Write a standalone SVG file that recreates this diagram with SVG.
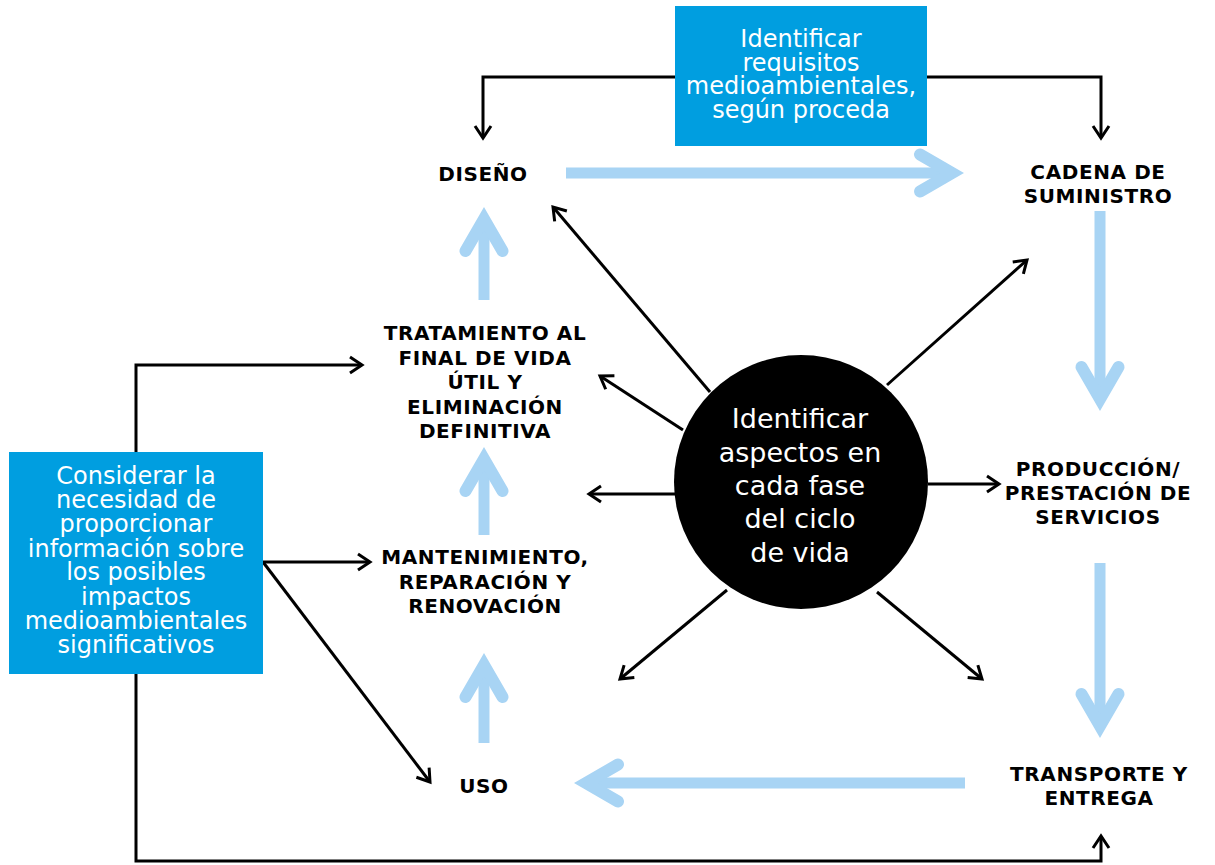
<svg xmlns="http://www.w3.org/2000/svg" xmlns:xlink="http://www.w3.org/1999/xlink" width="1215" height="865" viewBox="0 0 1215 865">
<style>
.lbl{font-family:"DejaVu Sans","Verdana",sans-serif;font-weight:bold;font-size:20px;letter-spacing:0.6px;fill:#000;text-anchor:middle}
.wt{font-family:"DejaVu Sans","Verdana",sans-serif;font-size:24px;fill:#fff;text-anchor:middle}
.ct{font-family:"DejaVu Sans","Verdana",sans-serif;font-size:27px;fill:#fff;text-anchor:middle}
.box{fill:#009EE0}
.blk{fill:none;stroke:#000;stroke-width:3;marker-end:url(#ah)}
.shaft{fill:none;stroke:#A8D4F4;stroke-width:11}
.head{fill:none;stroke:#A8D4F4;stroke-width:12;stroke-linecap:round;stroke-linejoin:miter}
</style>
<defs>
<marker id="ah" viewBox="-15 -10 18 20" refX="0" refY="0" markerWidth="18" markerHeight="20" markerUnits="userSpaceOnUse" orient="auto" overflow="visible">
<path d="M-12,-8 L0,0 L-12,8" fill="none" stroke="#000" stroke-width="3"/>
</marker>
<path id="bh" class="head" d="M-18.5,-44 L0,-12 L18.5,-44"/>
</defs>
<rect width="1215" height="865" fill="#fff"/>
<g id="connectors">
<!-- light blue flow arrows -->
<path class="shaft" d="M566,173 H952"/>
<use href="#bh" transform="translate(964,173) rotate(-90)"/>
<path class="shaft" d="M1100,211 V399"/>
<use href="#bh" transform="translate(1100,411)"/>
<path class="shaft" d="M1100,563 V726"/>
<use href="#bh" transform="translate(1100,738)"/>
<path class="shaft" d="M965,783 H586"/>
<use href="#bh" transform="translate(574,783) rotate(90)"/>
<path class="shaft" d="M484,743 V665"/>
<use href="#bh" transform="translate(484,653) rotate(180)"/>
<path class="shaft" d="M484,535 V459"/>
<use href="#bh" transform="translate(484,447) rotate(180)"/>
<path class="shaft" d="M484,300 V219"/>
<use href="#bh" transform="translate(484,207) rotate(180)"/>
<!-- black arrows -->
<path class="blk" d="M676,77 H483 V138"/>
<path class="blk" d="M927,77 H1101 V138"/>
<path class="blk" d="M710,392 L553,207"/>
<path class="blk" d="M887,385 L1027,260"/>
<path class="blk" d="M683,430 L600,376"/>
<path class="blk" d="M675,494 H589"/>
<path class="blk" d="M928,484 H999"/>
<path class="blk" d="M727,590 L620,679"/>
<path class="blk" d="M877,592 L982,679"/>
<path class="blk" d="M136,452 V365 H362"/>
<path class="blk" d="M263,562 H370"/>
<path class="blk" d="M263,562 L430,782"/>
<path class="blk" d="M136,674 V861 H1101 V836"/>
</g>
<g id="n-requisitos">
<rect class="box" x="675" y="6" width="252" height="140"/>
<text class="wt" x="801" y="47">Identificar</text>
<text class="wt" x="801" y="71">requisitos</text>
<text class="wt" x="801" y="94">medioambientales,</text>
<text class="wt" x="801" y="118">según proceda</text>
</g>
<g id="n-informacion">
<rect class="box" x="9" y="452" width="254" height="222"/>
<text class="wt" x="136" y="484">Considerar la</text>
<text class="wt" x="136" y="508">necesidad de</text>
<text class="wt" x="136" y="532">proporcionar</text>
<text class="wt" x="136" y="557">información sobre</text>
<text class="wt" x="136" y="580">los posibles</text>
<text class="wt" x="136" y="605">impactos</text>
<text class="wt" x="136" y="629">medioambientales</text>
<text class="wt" x="136" y="653">significativos</text>
</g>
<g id="n-centro">
<circle cx="801" cy="482" r="127" fill="#000"/>
<text class="ct" x="800" y="428">Identificar</text>
<text class="ct" x="800" y="462">aspectos en</text>
<text class="ct" x="800" y="495">cada fase</text>
<text class="ct" x="800" y="528">del ciclo</text>
<text class="ct" x="800" y="562">de vida</text>
</g>
<g id="n-diseno">
<text class="lbl" x="483" y="181">DISEÑO</text>
</g>
<g id="n-cadena">
<text class="lbl" x="1098" y="179">CADENA DE</text>
<text class="lbl" x="1098" y="203">SUMINISTRO</text>
</g>
<g id="n-produccion">
<text class="lbl" x="1098" y="476">PRODUCCIÓN/</text>
<text class="lbl" x="1098" y="500">PRESTACIÓN DE</text>
<text class="lbl" x="1098" y="524">SERVICIOS</text>
</g>
<g id="n-transporte">
<text class="lbl" x="1099" y="781">TRANSPORTE Y</text>
<text class="lbl" x="1099" y="805">ENTREGA</text>
</g>
<g id="n-uso">
<text class="lbl" x="484" y="793">USO</text>
</g>
<g id="n-mantenimiento">
<text class="lbl" x="485" y="564">MANTENIMIENTO,</text>
<text class="lbl" x="485" y="589">REPARACIÓN Y</text>
<text class="lbl" x="485" y="613">RENOVACIÓN</text>
</g>
<g id="n-tratamiento">
<text class="lbl" x="485" y="340">TRATAMIENTO AL</text>
<text class="lbl" x="485" y="365">FINAL DE VIDA</text>
<text class="lbl" x="485" y="389">ÚTIL Y</text>
<text class="lbl" x="485" y="414">ELIMINACIÓN</text>
<text class="lbl" x="485" y="438">DEFINITIVA</text>
</g>
</svg>
